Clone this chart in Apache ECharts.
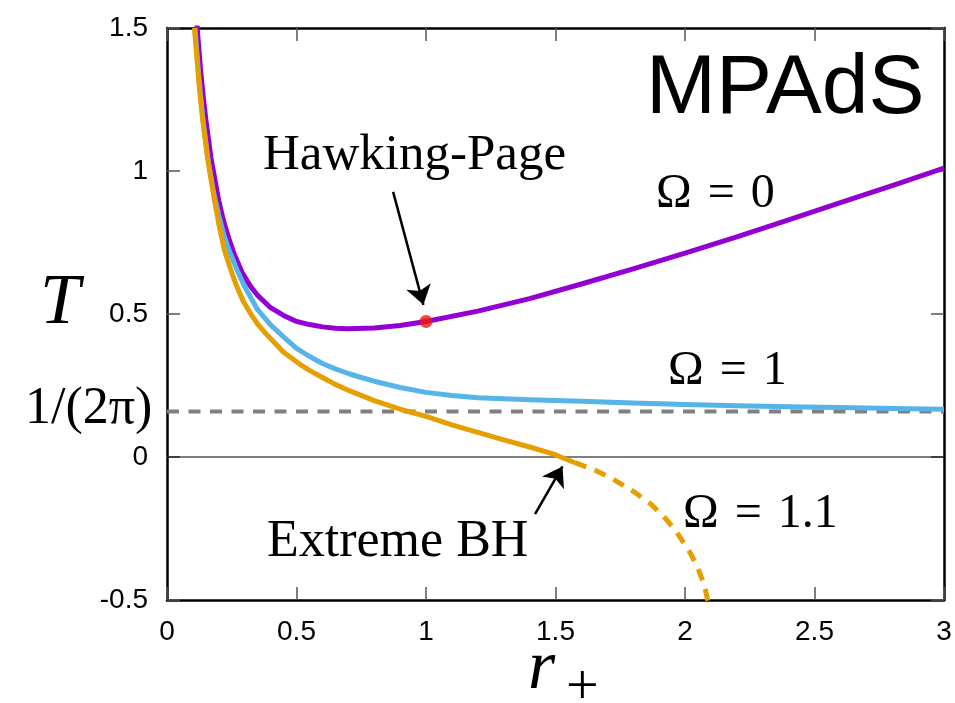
<!DOCTYPE html>
<html>
<head>
    <meta charset="utf-8">
    <title>MPAdS temperature</title>
    <script src="https://cdn.jsdelivr.net/npm/echarts@6.0.0/dist/echarts.min.js"></script>
    <style>
        html, body { margin: 0; padding: 0; background: #fff; }
        #main { width: 955px; height: 703px; }
    </style>
</head>
<body>
<div id="main"></div>
<script type="text/javascript">

// values
var r_omega0 = [0.115, 0.12, 0.13, 0.14, 0.15, 0.17, 0.2, 0.22, 0.24, 0.26, 0.29, 0.32, 0.35, 0.4, 0.45, 0.5, 0.55, 0.6, 0.65, 0.7, 0.8, 0.9, 1.0, 1.2, 1.4, 1.6, 1.8, 2.0, 2.2, 2.4, 2.6, 2.8, 3.0];
var T_omega0 = [1.52, 1.46, 1.35, 1.26, 1.18, 1.045, 0.895, 0.82, 0.76, 0.708, 0.645, 0.60, 0.565, 0.522, 0.495, 0.474, 0.463, 0.455, 0.450, 0.448, 0.451, 0.460, 0.474, 0.510, 0.554, 0.605, 0.658, 0.713, 0.770, 0.829, 0.889, 0.949, 1.010];

var r_omega1 = [0.108, 0.115, 0.125, 0.14, 0.16, 0.18, 0.2, 0.22, 0.24, 0.27, 0.3, 0.35, 0.4, 0.45, 0.5, 0.55, 0.6, 0.65, 0.7, 0.75, 0.8, 0.9, 1.0, 1.1, 1.2, 1.4, 1.6, 1.8, 2.0, 2.2, 2.4, 2.6, 2.8, 3.0];
var T_omega1 = [1.50, 1.42, 1.31, 1.17, 1.03, 0.925, 0.845, 0.775, 0.722, 0.655, 0.595, 0.515, 0.462, 0.42, 0.38, 0.352, 0.327, 0.308, 0.292, 0.278, 0.265, 0.243, 0.226, 0.215, 0.207, 0.200, 0.195, 0.189, 0.184, 0.179, 0.176, 0.173, 0.170, 0.167];

// Omega = 1.1, solid part down to the extreme black hole, then the dashed part
var r_omega11 = [0.106, 0.113, 0.123, 0.135, 0.157, 0.18, 0.2, 0.222, 0.25, 0.27, 0.293, 0.32, 0.35, 0.383, 0.42, 0.448, 0.512, 0.55, 0.6, 0.65, 0.706, 0.8, 0.9, 1.0, 1.1, 1.2, 1.3, 1.4, 1.5, 1.52, 1.575];
var T_omega11 = [1.50, 1.42, 1.31, 1.20, 1.043, 0.915, 0.815, 0.722, 0.645, 0.595, 0.547, 0.505, 0.465, 0.43, 0.395, 0.368, 0.325, 0.303, 0.278, 0.254, 0.231, 0.197, 0.167, 0.142, 0.112, 0.086, 0.06, 0.035, 0.008, 0.0, -0.02];
var r_omega11_neg = [1.575, 1.65, 1.714, 1.8, 1.869, 1.93, 1.973, 2.02, 2.05, 2.075, 2.09];
var T_omega11_neg = [-0.02, -0.045, -0.073, -0.12, -0.165, -0.22, -0.27, -0.335, -0.388, -0.45, -0.51];

var hawkingPage = [1.0, 0.474];
var T_limit = 0.159;   // 1/(2pi)
var xRange = [0, 3];

function pairs(xs, ys) {
    var out = [];
    for (var i = 0; i < xs.length; i++) out.push([xs[i], ys[i]]);
    return out;
}

var myChart = echarts.init(document.getElementById('main'));

var serif = '"Liberation Serif", "DejaVu Serif", serif';
var sans = '"Liberation Sans", Arial, sans-serif';
var sp = '\u2004';

var tickStyle = { show: true, inside: true, length: 13, lineStyle: { color: '#555', width: 1.5 } };
var borderLine = { show: true, onZero: false, lineStyle: { color: '#000', width: 2.5 } };
var arrowLine = {
    silent: true,
    symbol: ['none', 'arrow'],
    symbolSize: 19,
    lineStyle: { color: '#000', width: 2.5, type: 'solid' },
    label: { show: false }
};

option = {
    animation: false,
    backgroundColor: '#fff',
    grid: { left: 167, right: 11, top: 28, bottom: 103 },
    xAxis: [
        {
            type: 'value', min: 0, max: 3, interval: 0.5,
            axisLine: borderLine, axisTick: tickStyle, splitLine: { show: false },
            axisLabel: { margin: 18, fontSize: 28, color: '#000', fontFamily: sans }
        },
        {
            type: 'value', min: 0, max: 3, interval: 0.5, position: 'top',
            axisLine: borderLine, axisTick: tickStyle, splitLine: { show: false },
            axisLabel: { show: false }
        }
    ],
    yAxis: [
        {
            type: 'value', min: -0.5, max: 1.5, interval: 0.5,
            axisLine: borderLine, axisTick: tickStyle, splitLine: { show: false },
            axisLabel: { margin: 19, fontSize: 28, color: '#000', fontFamily: sans }
        },
        {
            type: 'value', min: -0.5, max: 1.5, interval: 0.5, position: 'right',
            axisLine: borderLine, axisTick: tickStyle, splitLine: { show: false },
            axisLabel: { show: false }
        }
    ],
    series: [
        {
            name: 'zero',
            type: 'line',
            data: [[xRange[0], 0], [xRange[1], 0]],
            symbol: 'none',
            lineStyle: { color: '#000', width: 1.2 },
            silent: true
        },
        {
            name: '1/(2pi)',
            type: 'line',
            data: [[xRange[0], T_limit], [xRange[1], T_limit]],
            symbol: 'none',
            lineStyle: { color: '#808080', width: 4, type: [12, 9.5] },
            silent: true
        },
        {
            name: 'Omega = 0',
            type: 'line',
            data: pairs(r_omega0, T_omega0),
            symbol: 'none',
            lineStyle: { color: '#9400d3', width: 5, join: 'round' },
            markLine: Object.assign({}, arrowLine, {
                data: [[{ coord: [0.873, 0.927] }, { coord: [0.99, 0.532] }]]
            })
        },
        {
            name: 'Omega = 1',
            type: 'line',
            data: pairs(r_omega1, T_omega1),
            symbol: 'none',
            lineStyle: { color: '#56b4e9', width: 5, join: 'round' }
        },
        {
            name: 'Omega = 1.1 (T<0)',
            type: 'line',
            data: pairs(r_omega11_neg, T_omega11_neg),
            symbol: 'none',
            lineStyle: { color: '#e69f00', width: 5, type: [12, 9] }
        },
        {
            name: 'Omega = 1.1',
            type: 'line',
            data: pairs(r_omega11, T_omega11),
            symbol: 'none',
            lineStyle: { color: '#e69f00', width: 5, join: 'round' },
            markLine: Object.assign({}, arrowLine, {
                data: [[{ coord: [1.421, -0.2] }, { coord: [1.527, -0.033] }]]
            })
        },
        {
            name: 'Hawking-Page',
            type: 'scatter',
            data: [hawkingPage],
            symbolSize: 13,
            itemStyle: { color: '#e8190e' },
            z: 5
        }
    ],
    graphic: [
        { type: 'text', left: 646, top: 48, style: { text: 'MPAdS', font: '84px ' + sans, fill: '#000' } },
        { type: 'text', left: 263, top: 130, style: { text: 'Hawking-Page', font: '51px ' + serif, fill: '#000' } },
        { type: 'text', left: 656, top: 170, style: { text: 'Ω' + sp + '=' + sp + '0', font: '48px ' + serif, fill: '#000' } },
        { type: 'text', left: 668, top: 347, style: { text: 'Ω' + sp + '=' + sp + '1', font: '48px ' + serif, fill: '#000' } },
        { type: 'text', left: 683, top: 490, style: { text: 'Ω' + sp + '=' + sp + '1.1', font: '48px ' + serif, fill: '#000' } },
        { type: 'text', left: 267, top: 516, style: { text: 'Extreme BH', font: '52px ' + serif, fill: '#000' } },
        { type: 'text', left: 40, top: 268, style: { text: 'T', font: 'italic 72px ' + serif, fill: '#000' } },
        { type: 'text', left: 25, top: 383, style: { text: '1/(2π)', font: '52px ' + serif, fill: '#000' } },
        { type: 'text', left: 528, top: 635, style: { text: 'r', font: 'italic 70px ' + serif, fill: '#000' } },
        { type: 'text', left: 566, top: 660, style: { text: '+', font: '58px ' + serif, fill: '#000' } }
    ]
};

myChart.setOption(option);

</script>
</body>
</html>
